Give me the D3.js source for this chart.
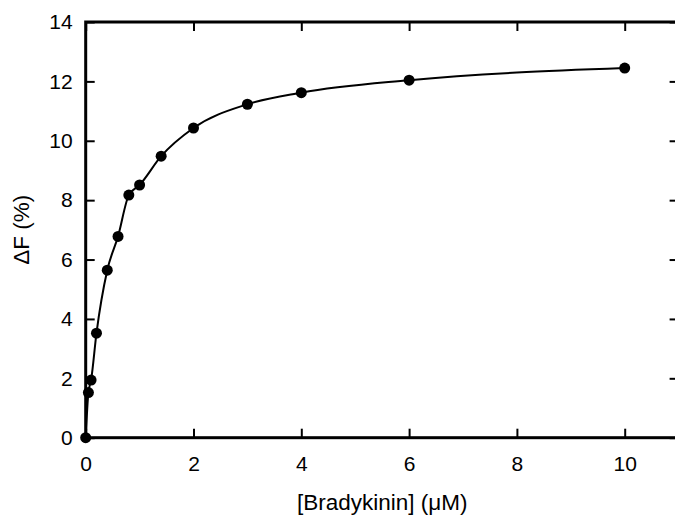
<!DOCTYPE html>
<html>
<head>
<meta charset="utf-8">
<script src="https://cdn.jsdelivr.net/npm/d3@7"></script>
<style>
  html, body { margin: 0; padding: 0; background: #fff; }
  svg { display: block; }
  text { font-family: "Liberation Sans", Arial, sans-serif; fill: #000; }
</style>
</head>
<body>
<svg id="chart" width="675" height="517"></svg>
<script>
// Bradykinin concentration (µM) and fluorescence change ΔF (%)
const concentration = [0, 0.05, 0.1, 0.2, 0.4, 0.6, 0.8, 1.0, 1.4, 2, 3, 4, 6, 10];
const deltaF = [0, 1.52, 1.94, 3.52, 5.64, 6.78, 8.17, 8.51, 9.48, 10.43, 11.23, 11.62, 12.04, 12.45];
const xTicks = [0, 2, 4, 6, 8, 10];
const yTicks = [0, 2, 4, 6, 8, 10, 12, 14];

const svg = d3.select("#chart");
const margin = { left: 85.7, top: 22, right: 678.6, bottom: 437.7 };

const x = d3.scaleLinear().domain([0, 11]).range([margin.left, margin.right]);
const y = d3.scaleLinear().domain([0, 14]).range([margin.bottom, margin.top]);

const tickLen = 9;

// inward ticks on all four sides
const axisB = d3.axisBottom(x).tickValues(xTicks).tickSizeInner(-tickLen).tickSizeOuter(0).tickPadding(18);
const axisT = d3.axisTop(x).tickValues(xTicks).tickSizeInner(-tickLen).tickSizeOuter(0).tickFormat("");
const axisL = d3.axisLeft(y).tickValues(yTicks).tickSizeInner(-tickLen).tickSizeOuter(0).tickPadding(13);
const axisR = d3.axisRight(y).tickValues(yTicks).tickSizeInner(-tickLen).tickSizeOuter(0).tickFormat("");

function style(g) {
  g.select(".domain").remove();
  g.selectAll(".tick line").attr("stroke", "#000").attr("stroke-width", 2);
  g.selectAll(".tick text").attr("font-size", 21).attr("font-family", "Liberation Sans, Arial, sans-serif");
}

svg.append("g").attr("transform", `translate(0,${margin.bottom})`).call(axisB).call(style);
svg.append("g").attr("transform", `translate(0,${margin.top})`).call(axisT).call(style);
svg.append("g").attr("transform", `translate(${margin.left},0)`).call(axisL).call(style);
svg.append("g").attr("transform", `translate(${margin.right},0)`).call(axisR).call(style);

// frame
svg.append("rect")
  .attr("x", margin.left).attr("y", margin.top)
  .attr("width", margin.right - margin.left).attr("height", margin.bottom - margin.top)
  .attr("fill", "none").attr("stroke", "#000").attr("stroke-width", 3);

// smooth binding curve through the measurements
const pts = concentration.map((c, i) => [c, deltaF[i]]);
svg.append("path")
  .datum(pts)
  .attr("fill", "none").attr("stroke", "#000").attr("stroke-width", 2)
  .attr("d", d3.line().x(d => x(d[0])).y(d => y(d[1])).curve(d3.curveMonotoneX));

svg.append("g").selectAll("circle")
  .data(pts).join("circle")
  .attr("cx", d => x(d[0])).attr("cy", d => y(d[1]))
  .attr("r", 5.5).attr("fill", "#000");

// axis titles
svg.append("text")
  .attr("x", (margin.left + margin.right) / 2).attr("y", 510)
  .attr("text-anchor", "middle").attr("font-size", 22.5)
  .text("[Bradykinin] (\u03BCM)");

svg.append("text")
  .attr("transform", `translate(28.5,${(margin.top + margin.bottom) / 2}) rotate(-90)`)
  .attr("text-anchor", "middle").attr("font-size", 22.5)
  .text("\u0394F (%)");
</script>
</body>
</html>
